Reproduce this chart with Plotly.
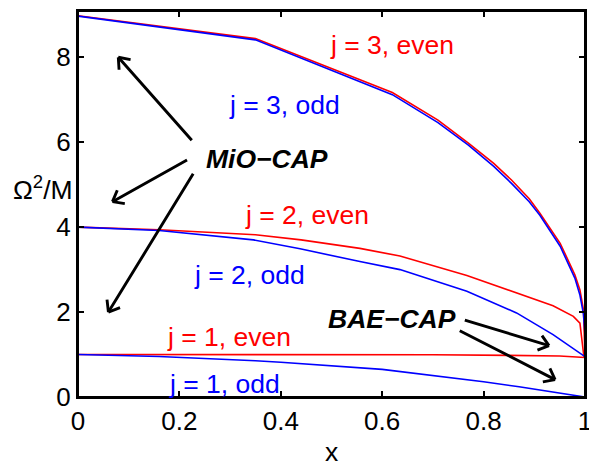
import numpy as np
import plotly.graph_objects as go

# ---- data ----
x3_even = [0, 0.35, 0.62, 0.71, 0.77, 0.82, 0.855, 0.89, 0.911, 0.951, 0.98, 0.99, 0.997, 1.0]
y3_even = [8.98, 8.44, 7.17, 6.52, 5.98, 5.50, 5.11, 4.67, 4.33, 3.62, 2.88, 2.52, 2.05, 0.95]
x3_odd = [0, 0.35, 0.62, 0.71, 0.77, 0.82, 0.855, 0.89, 0.911, 0.951, 0.98, 0.99, 0.997, 1.0, 1.0]
y3_odd = [8.97, 8.41, 7.12, 6.46, 5.93, 5.43, 5.03, 4.60, 4.28, 3.55, 2.80, 2.40, 1.95, 1.47, 0.95]
x2_even = [0, 0.16, 0.35, 0.44, 0.556, 0.635, 0.767, 0.865, 0.937, 0.977, 0.99, 0.998]
y2_even = [4.0, 3.94, 3.82, 3.70, 3.50, 3.32, 2.86, 2.45, 2.15, 1.90, 1.74, 0.93]
x2_odd = [0, 0.16, 0.346, 0.438, 0.556, 0.635, 0.767, 0.865, 0.937, 1.0]
y2_odd = [4.0, 3.92, 3.70, 3.49, 3.19, 3.00, 2.49, 1.98, 1.47, 0.95]
x1_even = [0, 0.5, 0.7, 0.85, 0.95, 1.0]
y1_even = [1.0, 1.0, 0.995, 0.98, 0.965, 0.93]
x1_odd = [0, 0.16, 0.35, 0.4, 0.6, 0.8, 0.87, 1.0]
y1_odd = [1.0, 0.955, 0.855, 0.82, 0.65, 0.36, 0.24, 0.0]

x_ticks = [0, 0.2, 0.4, 0.6, 0.8, 1]
x_ticklabels = ["0", "0.2", "0.4", "0.6", "0.8", "1"]
y_ticks = [0, 2, 4, 6, 8]
y_ticklabels = ["0", "2", "4", "6", "8"]

labels = [
    ("j = 3, even", 0.619, 8.30, "#ff0000"),
    ("j = 3, odd", 0.408, 6.88, "#0000ff"),
    ("j = 2, even", 0.452, 4.29, "#ff0000"),
    ("j = 2, odd", 0.339, 2.88, "#0000ff"),
    ("j = 1, even", 0.298, 1.42, "#ff0000"),
    ("j = 1, odd", 0.288, 0.31, "#0000ff"),
]
bold_labels = [
    ("MiO\u2212CAP", 0.373, 5.61),
    ("BAE\u2212CAP", 0.619, 1.84),
]
# arrows: (tail_x, tail_y, tip_x, tip_y)
arrows = [
    (0.227, 6.01, 0.0795, 8.0),
    (0.218, 5.60, 0.068, 4.60),
    (0.229, 5.29, 0.060, 2.00),
    (0.760, 1.82, 0.929, 1.21),
    (0.750, 1.58, 0.941, 0.41),
]

# ---- layout geometry ----
W, H = 589, 462
ML, MR, MT, MB = 78, 4, 11, 65
XR = [0, 1]
YR = [0, 9.09]
PW = W - ML - MR
PH = H - MT - MB

def to_px(x, y):
    return (ML + (x - XR[0]) / (XR[1] - XR[0]) * PW,
            MT + PH - (y - YR[0]) / (YR[1] - YR[0]) * PH)

FONT = "Liberation Sans, Arial, Helvetica, sans-serif"
FS = 26.5
TFS = 26

fig = go.Figure()
series = [
    (x3_even, y3_even, "#ff0000"),
    (x3_odd, y3_odd, "#0000ff"),
    (x2_even, y2_even, "#ff0000"),
    (x2_odd, y2_odd, "#0000ff"),
    (x1_even, y1_even, "#ff0000"),
    (x1_odd, y1_odd, "#0000ff"),
]
for xs, ys, c in series:
    fig.add_trace(go.Scatter(x=xs, y=ys, mode="lines",
                             line=dict(color=c, width=1.6), showlegend=False,
                             hoverinfo="skip"))
# empty trace so the mirrored (top/right) axes get drawn
fig.add_trace(go.Scatter(x=[None], y=[None], xaxis="x2", yaxis="y2",
                         mode="lines", showlegend=False, hoverinfo="skip"))

annotations = []
for t, x, y, c in labels:
    annotations.append(dict(x=x, y=y, xref="x", yref="y", text=t, showarrow=False,
                            font=dict(family=FONT, size=FS, color=c),
                            xanchor="center", yanchor="middle"))
for t, x, y in bold_labels:
    annotations.append(dict(x=x, y=y, xref="x", yref="y",
                            text="<b><i>" + t + "</i></b>", showarrow=False,
                            font=dict(family=FONT, size=FS, color="black"),
                            xanchor="center", yanchor="middle"))

AW = 2.9
HEAD = 14
ANG = np.deg2rad(38)
for tx, ty, hx, hy in arrows:
    p_tail = to_px(tx, ty)
    p_tip = to_px(hx, hy)
    dx, dy = p_tail[0] - p_tip[0], p_tail[1] - p_tip[1]
    annotations.append(dict(x=hx, y=hy, xref="x", yref="y", text="", showarrow=True,
                            ax=dx, ay=dy, arrowhead=0, arrowwidth=AW,
                            arrowcolor="black", standoff=0, startstandoff=0))
    L = np.hypot(dx, dy)
    ux, uy = dx / L, dy / L
    for s in (1, -1):
        c, sn = np.cos(s * ANG), np.sin(s * ANG)
        rx = ux * c - uy * sn
        ry = ux * sn + uy * c
        annotations.append(dict(x=hx, y=hy, xref="x", yref="y", text="", showarrow=True,
                                ax=rx * HEAD, ay=ry * HEAD, arrowhead=0, arrowwidth=AW,
                                arrowcolor="black", standoff=0, startstandoff=0))

# axis titles
annotations.append(dict(x=(75 - ML) / PW, y=(MT + PH - 188) / PH,
                        xref="paper", yref="paper",
                        text="\u03a9<sup>2</sup>/M", showarrow=False,
                        font=dict(family=FONT, size=FS, color="black"),
                        xanchor="right", yanchor="middle"))
annotations.append(dict(x=0.5, y=-(452 - (MT + PH)) / PH, xref="paper", yref="paper",
                        text="x", showarrow=False,
                        font=dict(family=FONT, size=FS, color="black"),
                        xanchor="center", yanchor="middle"))

axis_common = dict(showline=True, linecolor="black", linewidth=2, mirror="ticks",
                   ticks="inside", ticklen=6, tickwidth=1.5, tickcolor="black",
                   showgrid=False, zeroline=False, automargin=False,
                   ticklabeloverflow="allow",
                   tickfont=dict(family=FONT, size=TFS, color="black"))
mirror_common = dict(showline=True, linecolor="black", linewidth=2,
                     ticks="inside", ticklen=6, tickwidth=1.5, tickcolor="black",
                     showgrid=False, zeroline=False, automargin=False,
                     showticklabels=False)
fig.update_layout(
    width=W, height=H,
    margin=dict(l=ML, r=MR, t=MT, b=MB, autoexpand=False),
    paper_bgcolor="white", plot_bgcolor="white",
    xaxis=dict(range=XR, tickvals=x_ticks, ticktext=x_ticklabels, **axis_common),
    yaxis=dict(range=YR, tickvals=y_ticks, ticktext=y_ticklabels, **axis_common),
    xaxis2=dict(range=XR, tickvals=x_ticks, overlaying="x", side="top", anchor="y2",
                **mirror_common),
    yaxis2=dict(range=YR, tickvals=y_ticks, overlaying="y", side="right", anchor="x2",
                **mirror_common),
    annotations=annotations,
    shapes=[dict(type="rect", xref="paper", yref="paper", x0=0, x1=1, y0=0, y1=1,
                 line=dict(color="black", width=2), layer="above")],
    showlegend=False,
)
fig.write_html(
    "out.html",
    config={"displayModeBar": False},
    post_script="document.documentElement.style.overflow='hidden';"
                "document.body.style.margin='0';document.body.style.overflow='hidden';",
)
